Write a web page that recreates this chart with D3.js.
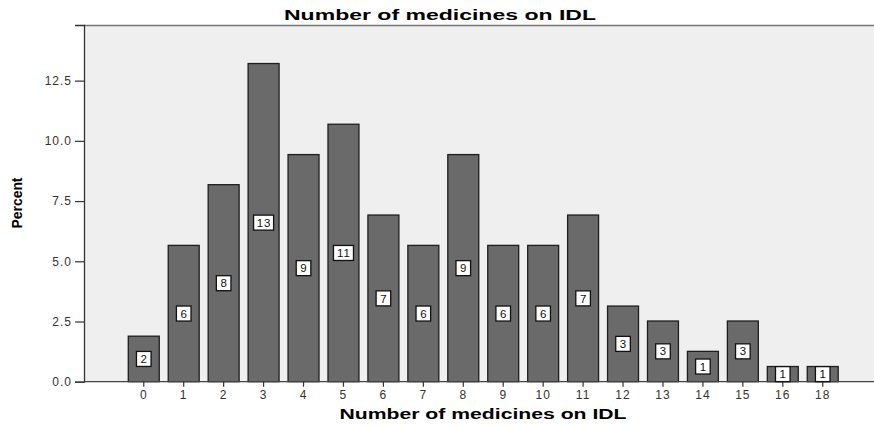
<!DOCTYPE html>
<html><head><meta charset="utf-8">
<script src="https://cdn.jsdelivr.net/npm/d3@7"></script>
<style>
body{margin:0;background:#fff;}
svg{display:block;}
text{font-family:"Liberation Sans",Arial,sans-serif;}
</style></head>
<body>
<svg id="chart" width="874" height="425"></svg>
<script>
const categories = ["0","1","2","3","4","5","6","7","8","9","10","11","12","13","14","15","16","18"];
const percents = [1.89,5.66,8.18,13.21,9.43,10.69,6.92,5.66,9.43,5.66,5.66,6.92,3.14,2.52,1.26,2.52,0.63,0.63];
const barLabels = ["2","6","8","13","9","11","7","6","9","6","6","7","3","3","1","3","1","1"];
const yTicks = [0,2.5,5,7.5,10,12.5];
const titleText = "Number of medicines on IDL";
const xTitle = "Number of medicines on IDL";
const yTitle = "Percent";

const svg = d3.select("#chart");
const pLeft = 84, pTop = 25, pRight = 874, pBottom = 381.7;

const x = d3.scaleBand().domain(categories).range([123.8, 842.7]).paddingInner(0.225).paddingOuter(0.1125);
const y = d3.scaleLinear().domain([0, 14.81]).range([pBottom, pTop]);

// plot background
svg.append("rect").attr("x", pLeft).attr("y", pTop).attr("width", pRight-pLeft).attr("height", pBottom-pTop).attr("fill", "#efefef");
svg.append("line").attr("x1", pLeft).attr("x2", pRight).attr("y1", pTop+0.5).attr("y2", pTop+0.5).attr("stroke", "#777").attr("stroke-width", 1.5);

// bars
svg.append("g").selectAll("rect").data(percents).join("rect")
  .attr("x", (d,i) => x(categories[i]))
  .attr("y", d => y(d))
  .attr("width", x.bandwidth())
  .attr("height", d => pBottom - y(d))
  .attr("fill", "#6a6a6a")
  .attr("stroke", "#1e1e1e")
  .attr("stroke-width", 1.3);

// y axis
const yAxis = d3.axisLeft(y).tickValues(yTicks).tickFormat(d3.format(".1f")).tickSize(9).tickPadding(3);
const gy = svg.append("g").attr("transform", `translate(${pLeft},0)`).call(yAxis);
gy.select(".domain").attr("stroke", "#333").attr("stroke-width", 1.3);
gy.selectAll(".tick line").attr("stroke", "#333").attr("stroke-width", 1.2);
gy.selectAll(".tick text").attr("font-size", 12).attr("fill", "#333").attr("letter-spacing", 1);

// x axis
const xAxis = d3.axisBottom(x).tickSize(5).tickPadding(4).tickSizeOuter(0);
const gx = svg.append("g").attr("transform", `translate(0,${pBottom})`).call(xAxis);
gx.select(".domain").attr("d", `M${pLeft},0H${pRight}`).attr("stroke", "#444").attr("stroke-width", 1.3);
gx.selectAll(".tick line").attr("stroke", "#333").attr("stroke-width", 1.2);
gx.selectAll(".tick text").attr("font-size", 12).attr("fill", "#333").attr("letter-spacing", 1);

// bar labels
const lab = svg.append("g").selectAll("g").data(percents).join("g")
  .attr("transform", (d,i) => `translate(${x(categories[i]) + x.bandwidth()/2},${(y(d)+pBottom)/2})`);
lab.append("rect")
  .attr("x", (d,i) => barLabels[i].length > 1 ? -10 : -7.3)
  .attr("y", -7.5)
  .attr("width", (d,i) => barLabels[i].length > 1 ? 20 : 14.6)
  .attr("height", 15)
  .attr("fill", "#fff").attr("stroke", "#111").attr("stroke-width", 1.3);
lab.append("text").text((d,i) => barLabels[i])
  .attr("text-anchor", "middle").attr("dy", "0.36em")
  .attr("font-size", 11.5).attr("letter-spacing", 1).attr("dx", 0.5).attr("fill", "#111");

// titles
svg.append("text").attr("x", 440).attr("y", 20).attr("text-anchor", "middle")
  .attr("font-size", 14.5).attr("font-weight", "bold").attr("textLength", 312).attr("lengthAdjust", "spacingAndGlyphs")
  .text(titleText);
svg.append("text").attr("x", 483).attr("y", 419).attr("text-anchor", "middle")
  .attr("font-size", 14).attr("font-weight", "bold").attr("textLength", 287).attr("lengthAdjust", "spacingAndGlyphs")
  .text(xTitle);
svg.append("text").attr("transform", "translate(22,203) rotate(-90)").attr("text-anchor", "middle")
  .attr("font-family", "'Liberation Sans Narrow','Arial Narrow',sans-serif")
  .attr("font-size", 15).attr("font-weight", "bold").attr("textLength", 51).attr("lengthAdjust", "spacingAndGlyphs")
  .text(yTitle);
</script>
</body></html>
